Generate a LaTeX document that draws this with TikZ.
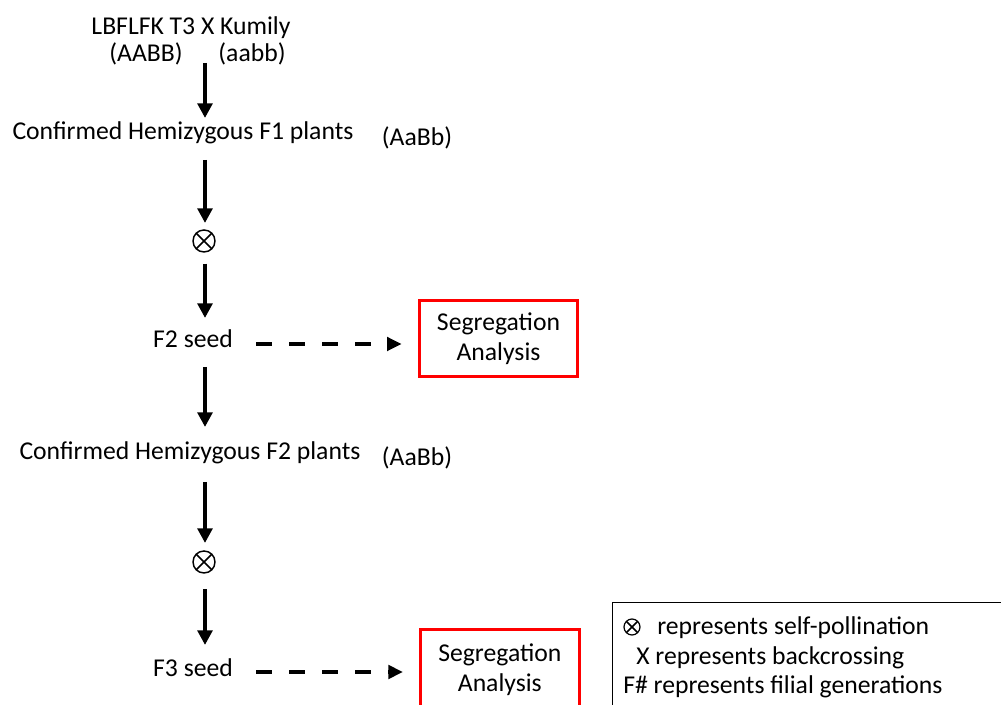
\documentclass[tikz,border=0pt]{standalone}
\usepackage{fontspec}
\setmainfont{Carlito}
\usetikzlibrary{arrows.meta,calc}
\tikzset{
  txt/.style={inner sep=0pt, anchor=base},
  arr/.style={line width=3pt, -{Triangle[length=11pt,width=11pt]}},
  dasharr/.style={line width=3pt, dash pattern=on 12pt off 12.75pt, -{Triangle[length=11pt,width=10pt]}},
  selfp/.style={circle, draw, line width=1.1pt, inner sep=0pt, minimum size=#1,
    path picture={\draw[line width=1.1pt] (path picture bounding box.north west) -- (path picture bounding box.south east)
      (path picture bounding box.north east) -- (path picture bounding box.south west);}},
  segbox/.style={draw=red, line width=2.25pt, align=center, inner sep=0pt,
    minimum width=119pt, text width=110pt},
}
\begin{document}
\begin{tikzpicture}[x=0.75pt,y=-0.75pt, font=\fontsize{19.25}{22.5}\selectfont]
\useasboundingbox (0,0) rectangle (1001,705);
\clip (0,0) rectangle (1001,705);
\fill[white] (0,0) rectangle (1001,705);

% texts
\node[txt] (parents) at (191,35) {LBFLFK T3 X Kumily};
\node[txt] (AABB) at (146,62) {(AABB)};
\node[txt] (aabb) at (252,62) {(aabb)};
\node[txt] (f1) at (183,140) {Confirmed Hemizygous F1 plants};
\node[txt] (g1) at (417,146) {(AaBb)};
\node[selfp=16.5pt] (s1) at (204,241) {};
\node[txt] (f2seed) at (193,348) {F2 seed};
\node[txt] (f2) at (190,460) {Confirmed Hemizygous F2 plants};
\node[txt] (g2) at (417,466) {(AaBb)};
\node[selfp=16.5pt] (s2) at (204,562) {};
\node[txt] (f3seed) at (193,677) {F3 seed};

% boxes
\node[segbox, minimum height=57pt] (seg1) at (498.5,339) {Segregation\\Analysis};
\node[segbox, minimum height=60pt, anchor=north west] (seg2) at (419,628) {Segregation\\Analysis};

% vertical arrows
\coordinate (a1s) at (205,63);  \coordinate (a1e) at (205,118);
\coordinate (a2s) at (205,160); \coordinate (a2e) at (205,223);
\coordinate (a3e) at (205,318);
\coordinate (a4s) at (205,367); \coordinate (a4e) at (205,427);
\coordinate (a5s) at (205,482); \coordinate (a5e) at (205,543);
\coordinate (a6e) at (205,645);
\draw[arr] (a1s) -- (a1e);
\draw[arr] (a2s) -- (a2e);
\draw[arr] ([yshift=-17pt]s1.center -| a3e) -- (a3e);
\draw[arr] (a4s) -- (a4e);
\draw[arr] (a5s) -- (a5e);
\draw[arr] ([yshift=-20.5pt]s2.center -| a6e) -- (a6e);

% dashed arrows
\path ([shift={(23,-4)}]f2seed.base east) coordinate (d1s);
\draw[dasharr] (d1s) -- ([xshift=-12pt]seg1.west |- d1s);
\path ([shift={(23,-5)}]f3seed.base east) coordinate (d2s);
\draw[dasharr] (d2s) -- ([xshift=-12pt]seg2.west |- d2s);

% legend
\node[draw, line width=0.8pt, anchor=north west, minimum width=320pt, minimum height=100pt, inner sep=0pt] (legend) at (612,602) {};
\node[selfp=12pt, line width=0.9pt] (ls) at (632,627) {};
\node[txt, anchor=base west] (l1) at (657,635) {represents self-pollination};
\node[txt, anchor=base west] (l2) at (636,665) {X represents backcrossing};
\node[txt, anchor=base west] (l3) at (623,694) {F\# represents filial generations};
\end{tikzpicture}
\end{document}
